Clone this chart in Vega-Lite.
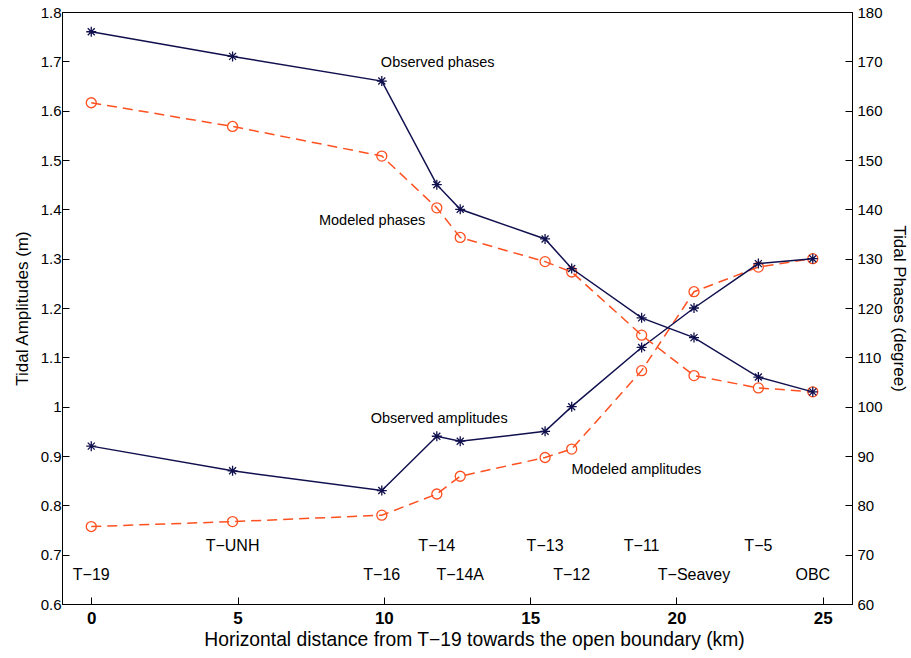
{
  "$schema": "https://vega.github.io/schema/vega-lite/v6.json",
  "width": 790,
  "height": 592,
  "autosize": {"type": "none"},
  "padding": {"left": 62, "top": 12, "right": 59, "bottom": 54},
  "background": "white",
  "config": {
    "view": {"stroke": "black", "strokeWidth": 1},
    "font": "Liberation Sans",
    "axis": {
      "grid": false,
      "domainColor": "black",
      "tickColor": "black",
      "labelColor": "black",
      "titleColor": "black",
      "labelFont": "Liberation Sans",
      "titleFont": "Liberation Sans",
      "titleFontWeight": "normal",
      "tickSize": -7,
      "labelFontSize": 15,
      "titleFontSize": 17
    }
  },
  "datasets": {
    "obsAmp": [
      {"km": 0, "v": 0.92}, {"km": 4.83, "v": 0.87}, {"km": 9.93, "v": 0.83},
      {"km": 11.81, "v": 0.94}, {"km": 12.61, "v": 0.93}, {"km": 15.51, "v": 0.95},
      {"km": 16.42, "v": 1.0}, {"km": 18.81, "v": 1.12}, {"km": 20.6, "v": 1.2},
      {"km": 22.8, "v": 1.29}, {"km": 24.66, "v": 1.3}
    ],
    "modAmp": [
      {"km": 0, "v": 0.757}, {"km": 4.83, "v": 0.767}, {"km": 9.93, "v": 0.78},
      {"km": 11.81, "v": 0.823}, {"km": 12.61, "v": 0.859}, {"km": 15.51, "v": 0.897},
      {"km": 16.42, "v": 0.914}, {"km": 18.81, "v": 1.073}, {"km": 20.6, "v": 1.233},
      {"km": 22.8, "v": 1.283}, {"km": 24.66, "v": 1.3}
    ],
    "obsPhase": [
      {"km": 0, "v": 176}, {"km": 4.83, "v": 171}, {"km": 9.93, "v": 166},
      {"km": 11.81, "v": 145}, {"km": 12.61, "v": 140}, {"km": 15.51, "v": 134},
      {"km": 16.42, "v": 128}, {"km": 18.81, "v": 118}, {"km": 20.6, "v": 114},
      {"km": 22.8, "v": 106}, {"km": 24.66, "v": 103}
    ],
    "modPhase": [
      {"km": 0, "v": 161.6}, {"km": 4.83, "v": 156.8}, {"km": 9.93, "v": 150.8},
      {"km": 11.81, "v": 140.3}, {"km": 12.61, "v": 134.3}, {"km": 15.51, "v": 129.4},
      {"km": 16.42, "v": 127.3}, {"km": 18.81, "v": 114.5}, {"km": 20.6, "v": 106.3},
      {"km": 22.8, "v": 103.8}, {"km": 24.66, "v": 103}
    ],
    "stations": [
      {"km": 4.83, "v": 0.708, "label": "T−UNH"},
      {"km": 11.81, "v": 0.708, "label": "T−14"},
      {"km": 15.51, "v": 0.708, "label": "T−13"},
      {"km": 18.81, "v": 0.708, "label": "T−11"},
      {"km": 22.8, "v": 0.708, "label": "T−5"},
      {"km": 0, "v": 0.6486, "label": "T−19"},
      {"km": 9.93, "v": 0.6486, "label": "T−16"},
      {"km": 12.61, "v": 0.6486, "label": "T−14A"},
      {"km": 16.42, "v": 0.6486, "label": "T−12"},
      {"km": 20.6, "v": 0.6486, "label": "T−Seavey"},
      {"km": 24.66, "v": 0.6486, "label": "OBC"}
    ],
    "notes": [
      {"km": 11.84, "v": 1.689, "label": "Observed phases"},
      {"km": 9.6, "v": 1.369, "label": "Modeled phases"},
      {"km": 11.89, "v": 0.967, "label": "Observed amplitudes"},
      {"km": 18.63, "v": 0.8628, "label": "Modeled amplitudes"}
    ]
  },
  "encoding": {
    "x": {
      "field": "km",
      "type": "quantitative",
      "scale": {"domain": [-1, 26], "nice": false, "zero": false},
      "axis": {
        "values": [0, 5, 10, 15, 20, 25],
        "format": "d",
        "labelFontWeight": "bold",
        "labelFontSize": 17,
        "labelPadding": 13,
        "title": "Horizontal distance from T−19 towards the open boundary (km)",
        "titleFontSize": 19.3,
        "titlePadding": 4,
        "titleX": 412
      }
    }
  },
  "layer": [
    {
      "encoding": {
        "y": {
          "field": "v",
          "type": "quantitative",
          "scale": {"domain": [0.6, 1.8], "nice": false, "zero": false},
          "axis": {
            "orient": "left",
            "values": [0.6, 0.7, 0.8, 0.9, 1.0, 1.1, 1.2, 1.3, 1.4, 1.5, 1.6, 1.7, 1.8],
            "format": "~g",
            "labelPadding": 8,
            "title": "Tidal Amplitudes (m)",
            "titlePadding": 9
          }
        }
      },
      "layer": [
        {"data": {"name": "modAmp"}, "mark": {"type": "line", "color": "#ff5020", "strokeWidth": 1.5, "strokeDash": [10, 6]}},
        {"data": {"name": "modAmp"}, "mark": {"type": "point", "shape": "circle", "size": 100, "filled": false, "color": "#ff5020", "strokeWidth": 1.3, "opacity": 1}},
        {"data": {"name": "obsAmp"}, "mark": {"type": "line", "color": "#10104e", "strokeWidth": 1.5}},
        {"data": {"name": "obsAmp"}, "mark": {"type": "point", "shape": "M-1,0L1,0M0,-1L0,1M-0.7,-0.7L0.7,0.7M-0.7,0.7L0.7,-0.7", "size": 100, "filled": false, "color": "#10104e", "strokeWidth": 1.3, "opacity": 1}},
        {"data": {"name": "stations"}, "mark": {"type": "text", "fontSize": 16, "color": "black", "align": "center", "baseline": "alphabetic"}, "encoding": {"text": {"field": "label"}}},
        {"data": {"name": "notes"}, "mark": {"type": "text", "fontSize": 14.5, "color": "black", "align": "center", "baseline": "alphabetic"}, "encoding": {"text": {"field": "label"}}}
      ]
    },
    {
      "encoding": {
        "y": {
          "field": "v",
          "type": "quantitative",
          "scale": {"domain": [60, 180], "nice": false, "zero": false},
          "axis": {
            "orient": "right",
            "values": [60, 70, 80, 90, 100, 110, 120, 130, 140, 150, 160, 170, 180],
            "format": "d",
            "labelPadding": 12,
            "title": "Tidal Phases (degree)",
            "titlePadding": 7
          }
        }
      },
      "layer": [
        {"data": {"name": "modPhase"}, "mark": {"type": "line", "color": "#ff5020", "strokeWidth": 1.5, "strokeDash": [10, 6]}},
        {"data": {"name": "modPhase"}, "mark": {"type": "point", "shape": "circle", "size": 100, "filled": false, "color": "#ff5020", "strokeWidth": 1.3, "opacity": 1}},
        {"data": {"name": "obsPhase"}, "mark": {"type": "line", "color": "#10104e", "strokeWidth": 1.5}},
        {"data": {"name": "obsPhase"}, "mark": {"type": "point", "shape": "M-1,0L1,0M0,-1L0,1M-0.7,-0.7L0.7,0.7M-0.7,0.7L0.7,-0.7", "size": 100, "filled": false, "color": "#10104e", "strokeWidth": 1.3, "opacity": 1}}
      ]
    }
  ],
  "resolve": {"scale": {"y": "independent"}, "axis": {"y": "independent"}}
}
